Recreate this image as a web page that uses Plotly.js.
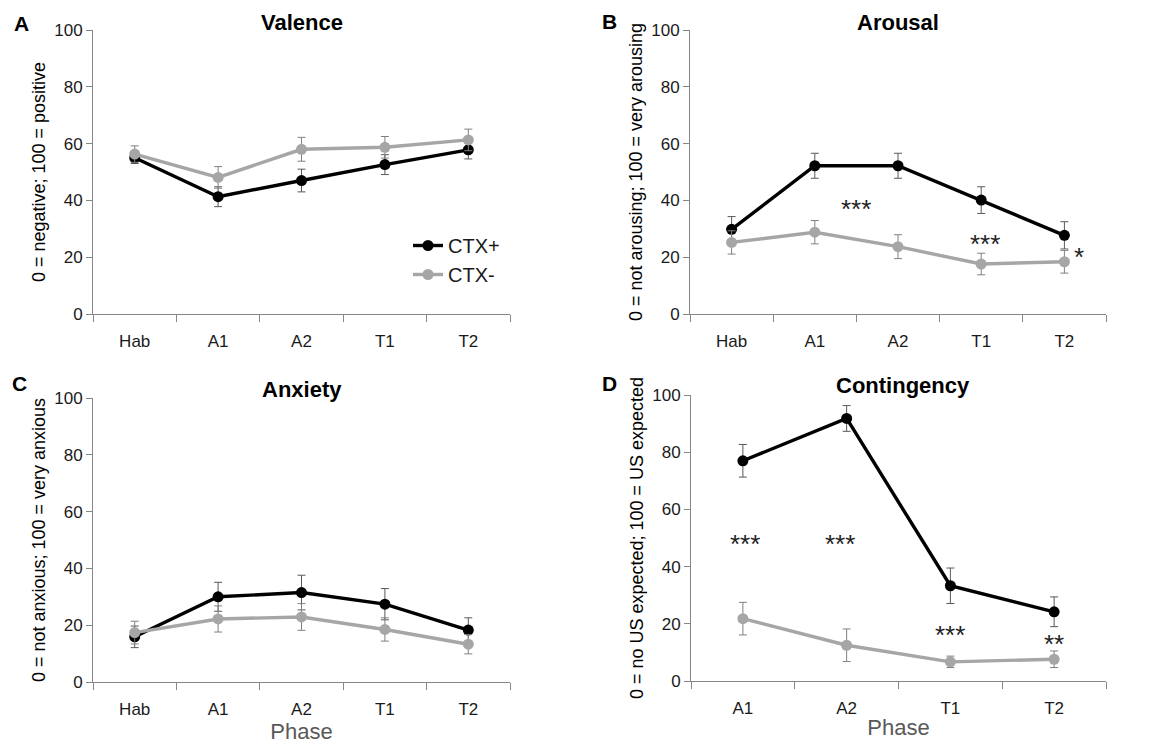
<!DOCTYPE html>
<html>
<head>
<meta charset="utf-8">
<script src="https://cdn.plot.ly/plotly-3.0.1.min.js"></script>
<style>html,body{margin:0;padding:0;background:#fff;}#chart{width:1165px;height:745px;}</style>
</head>
<body>
<div id="chart"></div>
<script>
// ---- data ----
const phases5 = ['Hab', 'A1', 'A2', 'T1', 'T2'];
const phasesD = ['A1', 'A2', 'T1', 'T2'];
const seriesNames = ['CTX+', 'CTX-'];

const valencePlus = [55.0, 41.3, 47.0, 52.6, 57.8];
const valencePlusErr = [2.0, 3.5, 4.0, 3.5, 3.2];
const valenceMinus = [56.3, 48.1, 58.0, 58.7, 61.3];
const valenceMinusErr = [2.9, 3.8, 4.2, 3.8, 3.8];

const arousalPlus = [29.8, 52.2, 52.2, 40.1, 27.7];
const arousalPlusErr = [4.5, 4.4, 4.4, 4.7, 4.8];
const arousalMinus = [25.2, 28.8, 23.7, 17.6, 18.4];
const arousalMinusErr = [4.1, 4.1, 4.2, 3.8, 4.0];

const anxietyPlus = [15.9, 30.0, 31.5, 27.4, 18.3];
const anxietyPlusErr = [3.8, 5.1, 6.1, 5.5, 4.3];
const anxietyMinus = [17.4, 22.2, 22.9, 18.5, 13.3];
const anxietyMinusErr = [4.0, 4.6, 4.7, 4.1, 3.4];

const contingencyPlus = [77.0, 91.8, 33.3, 24.2];
const contingencyPlusErr = [5.7, 4.5, 6.2, 5.2];
const contingencyMinus = [21.8, 12.5, 6.7, 7.6];
const contingencyMinusErr = [5.7, 5.7, 2.0, 2.9];

const panelTitles = ['Valence', 'Arousal', 'Anxiety', 'Contingency'];
const panelLetters = ['A', 'B', 'C', 'D'];
const yTitles = ['0 = negative; 100 = positive', '0 = not arousing; 100 = very arousing',
                 '0 = not anxious; 100 = very anxious', '0 = no US expected; 100 = US expected'];
const xTitle = 'Phase';

// significance marks: [category index, value, label]
const sigB = [[1.5, 39.6, '***'], [3.05, 27.2, '***'], [4.17, 22.5, '*']];
const sigD = [[0.02, 50.6, '***'], [0.94, 50.6, '***'], [2.0, 18.6, '***'], [3.0, 15.4, '**']];

// ---- style ----
const FONT = 'Liberation Sans, Arial, sans-serif';
const BLACK = '#000000';
const GRAY = '#a6a6a6';
const AXIS = '#868686';

function trace(x, y, err, idx, xa, ya, showlegend) {
  const col = idx === 0 ? BLACK : GRAY;
  return {
    type: 'scatter', mode: 'lines+markers', x: x, y: y,
    xaxis: xa, yaxis: ya, name: seriesNames[idx], legendgroup: seriesNames[idx],
    showlegend: showlegend,
    line: {color: col, width: 3.4},
    marker: {color: col, size: 11},
    error_y: {type: 'data', array: err, visible: true,
              color: idx === 0 ? '#595959' : '#808080', thickness: 1, width: 4},
    hoverinfo: 'x+y'
  };
}

const data = [
  trace(phases5, valencePlus, valencePlusErr, 0, 'x', 'y', true),
  trace(phases5, valenceMinus, valenceMinusErr, 1, 'x', 'y', true),
  trace(phases5, arousalPlus, arousalPlusErr, 0, 'x2', 'y2', false),
  trace(phases5, arousalMinus, arousalMinusErr, 1, 'x2', 'y2', false),
  trace(phases5, anxietyPlus, anxietyPlusErr, 0, 'x3', 'y3', false),
  trace(phases5, anxietyMinus, anxietyMinusErr, 1, 'x3', 'y3', false),
  trace(phasesD, contingencyPlus, contingencyPlusErr, 0, 'x4', 'y4', false),
  trace(phasesD, contingencyMinus, contingencyMinusErr, 1, 'x4', 'y4', false)
];

const W = 1165, H = 745;
function px(a, b) { return [a / W, b / W]; }
function py(top, bottom) { return [1 - bottom / H, 1 - top / H]; }

function xAxis(domain, n, anchor, withTitle) {
  const ax = {
    domain: domain, anchor: anchor, type: 'category', range: [-0.5, n - 0.5],
    tickson: 'boundaries', ticks: 'outside', ticklen: 7, tickcolor: AXIS, tickwidth: 1,
    showline: true, linecolor: AXIS, linewidth: 1, showgrid: false, zeroline: false,
    tickfont: {family: FONT, size: 17, color: '#1a1a1a'}, ticklabelstandoff: 12,
    fixedrange: true
  };
  if (withTitle) ax.title = {text: xTitle, font: {family: FONT, size: 22, color: '#595959'}, standoff: 2};
  return ax;
}
function yAxis(domain, anchor, title) {
  return {
    domain: domain, anchor: anchor, range: [0, 100], dtick: 20,
    ticks: 'outside', ticklen: 6, tickcolor: AXIS, tickwidth: 1,
    showline: true, linecolor: AXIS, linewidth: 1, showgrid: false, zeroline: false,
    tickfont: {family: FONT, size: 17, color: '#1a1a1a'},
    title: {text: title, font: {family: FONT, size: 18, color: '#000'}, standoff: 3},
    fixedrange: true
  };
}

const annotations = [];
const titlePos = [[302, 22], [898, 22], [302, 389], [903, 385]];
const letterPos = [[21, 23], [609, 21], [19, 383], [609, 383]];
for (let i = 0; i < 4; i++) {
  annotations.push({xref: 'paper', yref: 'paper', x: titlePos[i][0] / W, y: 1 - titlePos[i][1] / H,
    xanchor: 'center', yanchor: 'middle', showarrow: false, text: '<b>' + panelTitles[i] + '</b>',
    font: {family: FONT, size: 22, color: '#000'}});
  annotations.push({xref: 'paper', yref: 'paper', x: letterPos[i][0] / W, y: 1 - letterPos[i][1] / H,
    xanchor: 'center', yanchor: 'middle', showarrow: false, text: '<b>' + panelLetters[i] + '</b>',
    font: {family: FONT, size: 21, color: '#000'}});
}
sigB.forEach(s => annotations.push({xref: 'x2', yref: 'y2', x: s[0], y: s[1] - 2.6, text: s[2],
  showarrow: false, xanchor: 'center', yanchor: 'middle', font: {family: FONT, size: 26, color: '#222'}}));
sigD.forEach(s => annotations.push({xref: 'x4', yref: 'y4', x: s[0], y: s[1] - 2.6, text: s[2],
  showarrow: false, xanchor: 'center', yanchor: 'middle', font: {family: FONT, size: 26, color: '#222'}}));

const layout = {
  width: W, height: H, margin: {l: 0, r: 0, t: 0, b: 0},
  paper_bgcolor: '#fff', plot_bgcolor: '#fff',
  showlegend: true,
  legend: {x: 408 / W, y: 1 - 226 / H, xanchor: 'left', yanchor: 'top',
           bgcolor: 'rgba(0,0,0,0)', font: {family: FONT, size: 20, color: '#1a1a1a'},
           itemwidth: 30, tracegroupgap: 0},
  xaxis: xAxis(px(93, 510), 5, 'y', false),
  yaxis: yAxis(py(30, 314), 'x', yTitles[0]),
  xaxis2: xAxis(px(690, 1106), 5, 'y2', false),
  yaxis2: yAxis(py(30, 314), 'x2', yTitles[1]),
  xaxis3: xAxis(px(93, 510), 5, 'y3', true),
  yaxis3: yAxis(py(398, 682), 'x3', yTitles[2]),
  xaxis4: xAxis(px(691, 1106), 4, 'y4', true),
  yaxis4: yAxis(py(395, 681), 'x4', yTitles[3]),
  annotations: annotations
};

Plotly.newPlot('chart', data, layout, {displayModeBar: false, staticPlot: true});
</script>
</body>
</html>
